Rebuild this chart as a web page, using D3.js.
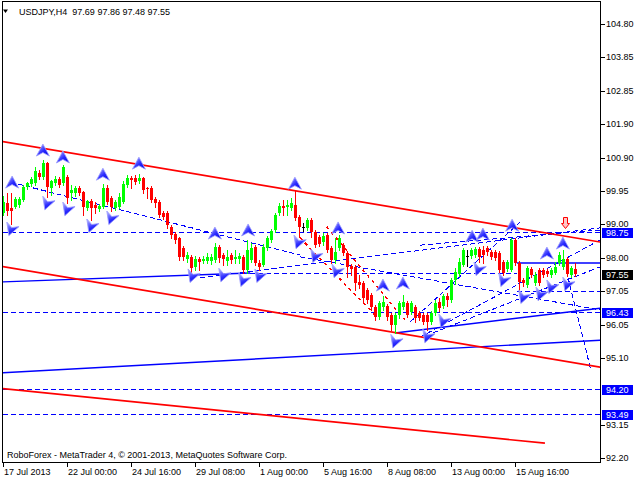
<!DOCTYPE html>
<html><head><meta charset="utf-8">
<script src="https://cdn.jsdelivr.net/npm/d3@7"></script>
<style>body{margin:0;background:#fff}svg{display:block;font-family:"Liberation Sans",Arial,sans-serif}</style>
</head><body><svg id="c" width="640" height="480"></svg>
<script>
// ---- data ----
const opens=[99.31,99.60,99.46,99.49,99.54,99.69,100.07,100.15,100.18,100.47,100.36,100.76,100.04,100.18,100.30,100.18,100.36,99.89,99.89,100.04,
99.92,99.46,99.66,99.54,99.43,99.49,100.04,99.75,99.46,99.49,99.63,100.12,100.33,100.33,100.24,100.33,100.04,100.04,99.72,99.63,
99.31,99.31,98.91,98.70,98.59,98.30,97.98,98.04,97.75,97.98,97.92,97.92,97.92,97.95,98.33,98.09,97.92,98.09,97.98,97.98,
98.04,97.66,97.95,98.33,97.86,97.80,98.30,98.53,98.82,99.31,99.52,99.49,99.46,99.54,99.20,98.91,98.88,99.11,98.76,98.62,
98.47,98.67,98.30,97.95,98.30,98.38,98.15,97.77,97.75,97.31,97.28,97.08,96.93,96.59,96.30,96.59,96.61,96.35,96.06,96.35,
96.59,96.70,96.44,96.59,96.41,96.35,96.35,96.15,96.41,96.73,96.61,96.90,96.79,97.37,97.54,97.80,98.06,98.06,98.09,98.27,
98.24,98.30,98.18,98.18,98.15,97.89,97.69,97.66,98.53,97.86,97.37,97.22,97.69,97.28,97.66,97.66,97.63,97.51,97.57,97.86,
97.75,97.98,97.51,97.69];
const highs=[99.81,99.89,99.89,99.78,99.78,100.12,100.21,100.36,100.65,100.56,100.85,100.79,100.27,100.39,100.36,100.70,100.41,100.12,100.10,100.10,
99.95,99.69,99.72,99.63,99.57,100.15,100.12,99.81,99.69,99.89,100.24,100.41,100.39,100.41,100.44,100.36,100.07,100.10,99.78,99.69,
99.37,99.37,98.96,98.76,98.62,98.35,98.18,98.09,98.06,98.04,98.06,98.15,98.12,98.44,98.38,98.15,98.24,98.15,98.24,98.15,
98.09,98.53,98.44,98.38,97.95,98.41,98.64,98.85,99.31,99.60,99.69,99.69,99.75,99.95,99.25,99.02,99.17,99.17,98.82,98.67,
98.73,98.73,98.35,98.59,98.67,98.44,98.21,97.83,97.80,97.51,97.34,97.14,96.99,96.64,96.76,96.90,96.67,96.41,96.41,96.76,
96.93,96.76,96.76,96.64,96.47,96.41,96.41,96.47,96.79,96.85,96.96,96.99,97.43,97.72,98.01,98.30,98.24,98.30,98.33,98.33,
98.35,98.35,98.24,98.24,98.21,97.95,97.95,98.59,98.59,97.92,97.43,97.77,97.75,97.60,97.72,97.72,97.69,97.72,97.89,98.18,
98.24,98.04,97.77,97.86];
const lows=[99.25,99.25,98.99,99.46,99.49,99.66,100.01,100.10,100.12,100.30,100.30,99.78,99.83,100.12,100.07,100.12,99.60,99.69,99.81,99.83,
99.25,99.40,99.11,99.31,99.37,99.46,99.57,99.37,99.40,99.46,99.60,100.07,100.04,100.15,100.18,99.89,99.75,99.63,99.49,99.20,
99.14,98.88,98.59,98.44,97.95,97.95,97.89,97.60,97.66,97.66,97.86,97.86,97.83,97.89,97.89,97.80,97.80,97.86,97.86,97.86,
97.57,97.57,97.89,97.80,97.66,97.77,98.24,98.47,98.76,99.25,99.25,99.25,99.40,99.11,98.62,98.79,98.82,98.62,98.33,98.35,
98.38,98.18,97.86,97.86,98.24,98.09,97.46,97.51,97.08,97.14,96.73,96.70,96.50,96.21,96.24,96.50,96.21,95.92,95.83,96.27,
96.53,96.30,96.38,96.15,96.21,96.09,95.92,96.09,96.35,96.47,96.56,96.61,96.73,97.25,97.48,97.77,97.77,98.01,98.04,97.89,
97.86,98.09,97.98,97.95,97.60,97.51,97.63,97.63,97.80,97.02,97.19,97.17,97.46,97.22,97.22,97.46,97.48,97.46,97.54,97.80,
97.69,97.48,97.46,97.48];
const closes=[99.63,99.37,99.37,99.72,99.72,100.07,100.18,100.30,100.53,100.36,100.76,100.07,100.24,100.30,100.12,100.65,99.75,99.98,100.04,99.89,
99.49,99.66,99.46,99.46,99.52,100.04,99.63,99.49,99.63,99.78,100.15,100.33,100.27,100.21,100.33,99.98,100.01,99.69,99.60,99.25,
99.20,98.96,98.67,98.53,98.04,98.04,98.09,97.72,97.98,97.89,97.98,98.04,98.04,98.33,98.01,97.98,98.04,97.95,98.04,98.06,
97.66,98.24,98.30,97.86,97.75,98.33,98.59,98.79,99.25,99.52,99.46,99.54,99.60,99.17,98.91,98.91,99.11,98.76,98.38,98.41,
98.64,98.24,97.95,98.18,98.59,98.15,97.75,97.69,97.28,97.22,96.85,96.79,96.59,96.30,96.70,96.73,96.30,96.06,96.35,96.70,
96.73,96.35,96.70,96.27,96.27,96.15,96.15,96.41,96.70,96.56,96.90,96.79,97.37,97.60,97.89,98.24,98.06,98.24,98.27,98.04,
98.09,98.18,98.04,98.01,97.66,97.57,97.89,98.53,97.86,97.31,97.28,97.72,97.51,97.51,97.28,97.51,97.54,97.66,97.75,98.09,
97.98,97.54,97.72,97.55];

const priceTicks=[104.80,103.85,102.85,101.90,100.90,99.95,99.00,98.00,97.05,96.05,95.10,93.15,92.20];
const timeTickBars=[0,16,32,48,64,80,96,112,128];
const timeTickLabels=["17 Jul 2013","22 Jul 00:00","24 Jul 16:00","29 Jul 08:00","1 Aug 00:00","5 Aug 16:00","8 Aug 08:00","13 Aug 00:00","15 Aug 16:00"];
const levelPrices=[98.75,96.43,94.20,93.49];
const lastPrice=97.55;
const titleText="USDJPY,H4  97.69 97.86 97.48 97.55";
const footerText="RoboForex - MetaTrader 4, \u00a9 2001-2013, MetaQuotes Software Corp.";

// trend lines: [bar1, price1, bar2, price2]
const redLines=[[-0.8,101.40,149.2,98.47],[-0.8,97.77,149.2,94.84],[-0.8,94.22,135.4,92.63]];
const redDashLines=[[74.2,98.59,93.7,96.26],[80.9,98.91,100.4,96.21]];
const blueLines=[[-0.8,97.31,61.7,97.57],[-0.8,94.67,149.2,95.62],[97.9,95.83,149.2,96.55],[128.4,97.86,149.2,97.86]];
const blueDashLines=[[1.7,100.21,74.2,98.09],[74.2,98.04,149.2,96.50],[49.2,97.43,149.2,98.88],[61.7,97.57,128.4,97.57],
 [128.4,97.04,149.2,97.04],[101.7,96.15,129.2,99.05],[104.2,95.71,149.2,98.53],[107.4,95.83,149.2,97.75],[104.2,98.38,149.2,98.82],
 [141.2,97.43,146.9,94.75]];

const upArrowBars=[2.2,9.9,14.9,24.9,33.9,52.9,61.2,72.9,83.7,94.9,99.9,117.2,119.9,127.2,135.9,139.9];
const upArrowPrices=[100.21,101.14,100.94,100.44,100.76,98.73,98.82,100.18,98.88,97.22,97.28,98.64,98.70,98.96,98.15,98.44];
const downArrowBars=[1.9,10.9,15.9,21.9,26.9,47.2,54.9,59.9,63.9,73.7,77.9,83.2,97.9,105.9,109.9,118.7,124.9,129.9,134.2,136.9,140.9];
const downArrowPrices=[98.82,99.57,99.40,98.91,99.14,97.46,97.48,97.34,97.46,98.44,98.04,97.60,95.56,95.71,96.15,97.66,97.34,96.85,96.93,97.14,97.22];
const sellSignalBar=[140.4];
const sellSignalPrice=[99.02];

// ---- drawing ----
const svg=d3.select("#c");
const L=2.5,R=600.5,T=1.5,B=462.5;
const x=d3.scaleLinear().domain([0,149]).range([3.3,599.3]);
const y=d3.scaleLinear().domain([92.20,104.80]).range([458,24]);

svg.append("rect").attr("width",640).attr("height",480).attr("fill","#fff");
const defs=svg.append("defs");
defs.append("clipPath").attr("id","plot").append("rect")
  .attr("x",L+0.5).attr("y",T+0.5).attr("width",R-L-1).attr("height",B-T-1);
const grad=defs.append("linearGradient").attr("id","arr").attr("x1",0).attr("y1",0).attr("x2",1).attr("y2",1);
grad.append("stop").attr("offset","0%").attr("stop-color","#c8c8ff");
grad.append("stop").attr("offset","55%").attr("stop-color","#2a2aff");
grad.append("stop").attr("offset","100%").attr("stop-color","#0000e0");
const g=svg.append("g").attr("clip-path","url(#plot)");

function drawLines(data,color,width,dash,crisp){
  g.selectAll(null).data(data).enter().append("line")
    .attr("x1",d=>x(d[0])).attr("y1",d=>y(d[1])).attr("x2",d=>x(d[2])).attr("y2",d=>y(d[3]))
    .attr("stroke",color).attr("stroke-width",width).attr("stroke-dasharray",dash||null)
    .attr("shape-rendering",crisp?"crispEdges":null);
}
// horizontal levels
g.selectAll(null).data(levelPrices).enter().append("line")
  .attr("x1",L).attr("x2",R).attr("y1",d=>Math.round(y(d))+0.5).attr("y2",d=>Math.round(y(d))+0.5)
  .attr("stroke","#0000ff").attr("stroke-width",1).attr("stroke-dasharray","5,3").attr("shape-rendering","crispEdges");
drawLines(blueDashLines,"#0000ff",1,"5,3",true);
drawLines(redDashLines,"#ff0000",1.5,"3,4",true);
drawLines(blueLines,"#0000ff",1.4);
drawLines(redLines,"#ff0000",1.7);

// candles
const idx=d3.range(opens.length);
const col=i=>closes[i]>opens[i]?"#00ff00":(closes[i]<opens[i]?"#ff0000":"#000000");
const cx=i=>Math.floor(x(i));
g.selectAll(null).data(idx).enter().append("line")
  .attr("x1",i=>cx(i)+0.5).attr("x2",i=>cx(i)+0.5)
  .attr("y1",i=>Math.round(y(highs[i]))).attr("y2",i=>Math.round(y(lows[i]))+1)
  .attr("stroke",col).attr("stroke-width",1).attr("shape-rendering","crispEdges");
g.selectAll(null).data(idx).enter().append("rect")
  .attr("x",i=>cx(i)-1).attr("width",3)
  .attr("y",i=>Math.round(y(Math.max(opens[i],closes[i]))))
  .attr("height",i=>Math.max(1,Math.round(y(Math.min(opens[i],closes[i])))-Math.round(y(Math.max(opens[i],closes[i])))))
  .attr("fill",col).attr("shape-rendering","crispEdges");

// arrows
g.selectAll(null).data(d3.range(upArrowBars.length)).enter().append("path")
  .attr("transform",i=>`translate(${x(upArrowBars[i])},${y(upArrowPrices[i])})`)
  .attr("d","M0,-6L6.5,6L0,2.5L-6.5,6Z").attr("fill","url(#arr)").attr("stroke","#9c9cff").attr("stroke-width",0.8);
g.selectAll(null).data(d3.range(downArrowBars.length)).enter().append("path")
  .attr("transform",i=>`translate(${x(downArrowBars[i])},${y(downArrowPrices[i])}) rotate(20)`)
  .attr("d","M0,6L6.5,-6L0,-2.5L-6.5,-6Z").attr("fill","url(#arr)").attr("stroke","#9c9cff").attr("stroke-width",0.8);
g.selectAll(null).data(sellSignalBar).enter().append("path")
  .attr("transform",(d,i)=>`translate(${Math.round(x(d))+0.5},${Math.round(y(sellSignalPrice[i]))+0.5})`)
  .attr("d","M-2,-6L2,-6L2,0L4,0L0,5L-4,0L-2,0Z").attr("fill","#ffc8c8").attr("stroke","#ff0000").attr("stroke-width",1);

// frame
svg.append("rect").attr("x",L).attr("y",T).attr("width",R-L).attr("height",B-T)
  .attr("fill","none").attr("stroke","#000").attr("stroke-width",1);

// right axis
const ra=svg.append("g").attr("font-size",9);
ra.selectAll(null).data(priceTicks).enter().append("line")
  .attr("x1",R).attr("x2",R+4).attr("y1",d=>Math.round(y(d))+0.5).attr("y2",d=>Math.round(y(d))+0.5)
  .attr("stroke","#000").attr("shape-rendering","crispEdges");
ra.selectAll(null).data(priceTicks).enter().append("text")
  .attr("x",606).attr("y",d=>Math.round(y(d))+2.5).text(d=>d3.format(".2f")(d)).attr("fill","#000");
// price labels
const tags=levelPrices.map(p=>({p,bg:"#0000ff"})).concat([{p:lastPrice,bg:"#000000"}]);
const tg=ra.selectAll(null).data(tags).enter().append("g");
tg.append("rect").attr("x",602).attr("y",d=>Math.round(y(d.p))-4).attr("width",31).attr("height",10)
  .attr("fill",d=>d.bg).attr("shape-rendering","crispEdges");
tg.append("text").attr("x",606).attr("y",d=>Math.round(y(d.p))+4).attr("fill","#fff").text(d=>d3.format(".2f")(d.p));

// bottom axis
const ba=svg.append("g").attr("font-size",9);
ba.selectAll(null).data(timeTickBars).enter().append("line")
  .attr("x1",d=>Math.floor(x(d))+0.5).attr("x2",d=>Math.floor(x(d))+0.5).attr("y1",B).attr("y2",B+4)
  .attr("stroke","#000").attr("shape-rendering","crispEdges");
ba.selectAll(null).data(timeTickBars).enter().append("text")
  .attr("x",d=>Math.floor(x(d))+1).attr("y",474.5).text((d,i)=>timeTickLabels[i]).attr("fill","#000");

// title & footer
svg.append("path").attr("d","M3,9.5L8,9.5L5.5,13Z").attr("fill","#000");
svg.append("text").attr("x",19).attr("y",15).attr("font-size",9).style("white-space","pre").text(titleText);
svg.append("text").attr("x",7).attr("y",457.5).attr("font-size",9).text(footerText);
</script></body></html>
